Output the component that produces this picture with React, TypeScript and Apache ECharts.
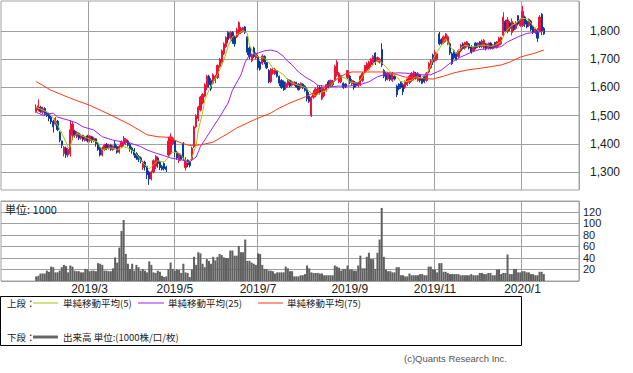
import React, { useEffect, useRef } from "react";
import * as echarts from "echarts";

// trading days per month shown on the chart (first month partial, last month partial)
const monthDays: [string, number][] = [
  ["2019/1", 6], ["2019/2", 19], ["2019/3", 20], ["2019/4", 20], ["2019/5", 19], ["2019/6", 20],
  ["2019/7", 22], ["2019/8", 21], ["2019/9", 19], ["2019/10", 21], ["2019/11", 20], ["2019/12", 21], ["2020/1", 11],
];
const tickMonths = ["2019/3", "2019/5", "2019/7", "2019/9", "2019/11", "2020/1"];
const priceTicks = [1300, 1400, 1500, 1600, 1700, 1800];
const volumeTicks = [20, 40, 60, 80, 100, 120];

const open = [
  1515,1520,1530,1512,1525,1510,1505,1495,1480,1470,
  1480,1440,1410,1365,1385,1360,1365,1430,1445,1425,
  1437,1420,1430,1412,1428,1412,1425,1410,1418,1400,
  1385,1360,1380,1398,1385,1395,1380,1400,1390,1370,
  1390,1400,1405,1410,1398,1385,1378,1365,1355,1350,
  1315,1335,1320,1300,1275,1300,1320,1350,1335,1320,
  1330,1318,1360,1370,1400,1410,1370,1340,1360,1400,
  1315,1342,1335,1345,1390,1460,1490,1520,1545,1570,
  1600,1640,1625,1615,1625,1635,1675,1690,1720,1745,
  1795,1775,1795,1780,1780,1790,1795,1800,1815,1780,
  1740,1695,1740,1705,1710,1690,1685,1710,1688,1660,
  1620,1650,1648,1660,1640,1625,1620,1598,1608,1625,
  1608,1610,1618,1612,1600,1612,1605,1595,1570,1500,
  1565,1570,1580,1600,1560,1570,1590,1620,1605,1622,
  1625,1645,1620,1620,1615,1612,1635,1640,1612,1622,
  1618,1605,1610,1625,1655,1660,1665,1680,1688,1722,
  1695,1690,1735,1660,1650,1630,1645,1625,1640,1605,
  1612,1620,1610,1600,1610,1618,1625,1630,1650,1625,
  1645,1630,1640,1625,1655,1670,1715,1695,1700,1790,
  1770,1760,1770,1755,1755,1720,1730,1720,1710,1730,
  1755,1740,1745,1755,1745,1730,1758,1745,1762,1745,
  1740,1755,1740,1758,1738,1760,1742,1750,1755,1785,
  1835,1800,1830,1795,1825,1810,1855,1820,1820,1850,
  1835,1820,1835,1815,1795,1805,1800,1860,1810,
];
const close = [
  1530,1535,1515,1525,1508,1500,1490,1478,1460,1490,
  1450,1413,1395,1388,1360,1380,1450,1470,1430,1440,
  1420,1430,1415,1425,1410,1428,1412,1420,1400,1380,
  1360,1385,1395,1385,1395,1380,1392,1385,1370,1392,
  1405,1420,1415,1395,1380,1375,1360,1350,1345,1338,
  1335,1318,1290,1275,1300,1340,1355,1330,1315,1310,
  1312,1308,1410,1425,1420,1370,1350,1365,1345,1350,
  1340,1325,1322,1385,1460,1500,1530,1566,1575,1610,
  1640,1610,1595,1645,1640,1678,1700,1730,1755,1778,
  1770,1795,1765,1755,1805,1830,1810,1812,1795,1725,
  1710,1715,1710,1720,1670,1665,1712,1690,1670,1620,
  1665,1660,1665,1640,1615,1600,1592,1615,1628,1605,
  1620,1618,1602,1592,1615,1598,1590,1560,1550,1565,
  1580,1595,1600,1582,1600,1595,1610,1600,1625,1610,
  1675,1690,1650,1642,1600,1602,1660,1618,1625,1600,
  1605,1618,1640,1650,1678,1685,1690,1700,1710,1690,
  1706,1700,1680,1640,1628,1650,1628,1650,1630,1575,
  1595,1600,1585,1620,1630,1640,1650,1655,1635,1650,
  1625,1615,1620,1650,1685,1695,1690,1725,1720,1755,
  1755,1780,1790,1780,1722,1685,1705,1700,1730,1750,
  1738,1760,1762,1740,1725,1742,1740,1758,1745,1765,
  1768,1738,1755,1740,1752,1745,1762,1775,1778,1850,
  1800,1840,1810,1835,1805,1830,1825,1838,1870,1825,
  1815,1842,1805,1795,1808,1775,1850,1800,1790,
];
const low = [
  1510,1515,1510,1505,1500,1495,1480,1470,1440,1465,
  1445,1405,1385,1355,1350,1352,1355,1413,1422,1420,
  1413,1415,1408,1408,1405,1405,1403,1405,1390,1375,
  1355,1355,1375,1378,1380,1375,1375,1380,1365,1365,
  1385,1392,1395,1390,1372,1365,1350,1343,1335,1330,
  1307,1305,1275,1254,1270,1295,1310,1315,1307,1305,
  1305,1300,1353,1360,1395,1353,1343,1332,1340,1343,
  1305,1318,1316,1340,1385,1455,1480,1515,1540,1565,
  1590,1600,1588,1610,1615,1630,1670,1685,1715,1740,
  1757,1770,1755,1745,1775,1785,1790,1795,1790,1715,
  1700,1690,1704,1700,1662,1660,1680,1682,1665,1615,
  1615,1645,1645,1635,1605,1595,1588,1592,1600,1600,
  1603,1605,1598,1590,1596,1594,1585,1550,1545,1495,
  1560,1565,1575,1575,1555,1565,1585,1595,1600,1605,
  1620,1638,1615,1615,1595,1597,1630,1612,1605,1592,
  1600,1600,1605,1620,1650,1655,1660,1673,1680,1680,
  1690,1685,1673,1633,1622,1625,1622,1620,1625,1566,
  1590,1595,1573,1595,1605,1612,1620,1625,1628,1620,
  1618,1612,1615,1620,1650,1665,1680,1690,1695,1750,
  1750,1755,1762,1750,1715,1680,1700,1695,1705,1725,
  1735,1735,1742,1735,1720,1725,1735,1740,1740,1740,
  1735,1732,1735,1735,1735,1740,1738,1745,1750,1780,
  1795,1792,1800,1785,1800,1805,1820,1815,1815,1815,
  1810,1815,1800,1790,1790,1762,1795,1786,1786,
];
const high = [
  1540,1558,1535,1532,1530,1515,1510,1500,1485,1495,
  1485,1445,1412,1392,1390,1385,1485,1477,1450,1445,
  1440,1435,1432,1428,1432,1430,1428,1425,1420,1405,
  1390,1390,1400,1403,1400,1400,1395,1413,1395,1395,
  1412,1428,1420,1415,1403,1390,1385,1370,1360,1355,
  1340,1340,1322,1305,1305,1345,1360,1355,1340,1325,
  1336,1322,1425,1437,1425,1413,1375,1367,1365,1406,
  1353,1345,1340,1390,1465,1505,1535,1570,1580,1615,
  1645,1645,1633,1650,1645,1682,1705,1735,1760,1782,
  1800,1800,1800,1785,1812,1835,1815,1815,1818,1782,
  1745,1720,1745,1725,1715,1695,1718,1714,1690,1665,
  1668,1668,1670,1662,1642,1630,1625,1620,1632,1628,
  1625,1622,1620,1615,1618,1615,1608,1600,1584,1570,
  1590,1600,1608,1605,1608,1598,1612,1626,1628,1626,
  1680,1697,1655,1645,1618,1615,1662,1645,1630,1625,
  1620,1620,1645,1655,1680,1690,1695,1704,1715,1725,
  1710,1705,1757,1665,1655,1655,1648,1655,1645,1610,
  1615,1622,1615,1625,1633,1645,1655,1660,1655,1655,
  1648,1633,1643,1655,1690,1700,1720,1733,1725,1797,
  1775,1785,1793,1785,1760,1725,1735,1725,1735,1755,
  1760,1762,1765,1758,1750,1745,1760,1760,1765,1770,
  1772,1758,1760,1760,1755,1762,1765,1780,1780,1867,
  1840,1850,1835,1845,1830,1835,1857,1842,1890,1855,
  1840,1845,1840,1820,1812,1810,1857,1864,1815,
];
const volume = [
  8,9,13,13,13,18,16,25,24,15,
  15,18,24,28,26,15,27,25,18,17,
  17,15,15,21,20,17,18,18,17,31,
  30,28,18,18,17,17,22,41,32,58,
  87,106,47,30,21,30,18,28,24,18,
  21,18,15,34,28,15,14,18,16,9,
  7,8,20,32,21,18,20,19,14,30,
  15,14,7,20,42,28,50,48,30,24,
  38,35,30,42,36,42,47,45,41,40,
  40,53,53,44,44,61,50,50,72,35,
  35,32,30,28,48,47,28,21,21,18,
  18,17,13,15,15,15,15,25,22,17,
  17,8,8,8,10,10,12,27,22,15,
  14,14,14,13,13,10,10,10,10,10,
  27,25,23,18,21,21,27,20,20,18,
  18,27,44,22,22,42,49,38,38,21,
  49,72,127,42,20,17,17,15,15,24,
  24,10,10,8,8,13,10,10,10,10,
  12,12,10,10,25,25,20,20,15,31,
  31,16,16,14,12,12,12,12,12,10,
  10,10,10,10,12,10,10,10,14,14,
  12,12,14,14,10,10,20,20,12,14,
  14,46,12,12,21,21,15,15,17,17,
  15,15,12,12,10,10,16,16,12,
];
// moving averages: [trading-day index, value]
const ma5: [number, number][] = [
  [0,1530],[3,1520],[6,1509],[8,1491],[10,1467],[12,1437],[14,1406],[15,1385],[16,1390],[17,1420],[19,1437],[21,1430],
  [24,1420],[26,1413],[29,1406],[30,1390],[31,1378],[34,1385],[36,1385],[38,1378],[41,1390],[43,1385],[46,1371],[48,1353],
  [50,1332],[53,1311],[54,1318],[57,1340],[60,1335],[62,1353],[64,1371],[67,1367],[69,1350],[71,1332],[73,1350],[75,1396],
  [76,1449],[78,1509],[79,1555],[81,1590],[83,1620],[85,1645],[88,1697],[90,1745],[92,1780],[95,1792],[97,1803],[99,1792],
  [100,1750],[102,1720],[104,1708],[107,1704],[109,1690],[111,1668],[114,1655],[116,1645],[118,1626],[120,1615],[123,1608],
  [126,1600],[129,1580],[131,1570],[133,1580],[136,1590],[138,1602],[140,1626],[143,1638],[145,1633],[147,1620],[150,1615],
  [152,1626],[154,1650],[157,1673],[159,1690],[161,1697],[164,1673],[166,1655],[169,1638],[171,1620],[173,1620],[176,1626],
  [178,1638],[180,1635],[183,1645],[185,1680],[187,1715],[190,1750],[192,1773],[194,1745],[197,1720],[199,1740],[201,1750],
  [204,1745],[206,1745],[208,1750],[211,1750],[213,1746],[215,1750],[218,1762],[220,1797],[223,1821],[225,1828],[227,1845],
  [230,1845],[232,1828],[234,1810],[236,1797],[238,1800],
];
const ma25: [number, number][] = [
  [0,1512],[3,1502],[8,1509],[10,1495],[15,1484],[19,1474],[22,1460],[27,1449],[31,1425],[36,1413],[41,1406],[44,1403],
  [49,1390],[52,1378],[56,1367],[60,1358],[63,1350],[68,1343],[72,1336],[75,1353],[77,1390],[80,1425],[83,1460],[86,1495],
  [90,1545],[92,1590],[96,1645],[98,1690],[100,1715],[104,1722],[107,1730],[110,1733],[113,1727],[116,1710],[117,1700],
  [120,1680],[123,1655],[126,1638],[130,1620],[132,1608],[137,1602],[142,1605],[146,1605],[151,1608],[156,1620],[160,1638],
  [165,1650],[170,1652],[175,1650],[180,1645],[185,1645],[190,1662],[194,1686],[199,1708],[204,1725],[208,1735],[213,1738],
  [218,1745],[221,1762],[226,1780],[230,1792],[235,1797],[238,1800],
];
const ma75: [number, number][] = [
  [0,1621],[7,1590],[16,1562],[25,1537],[35,1502],[44,1468],[52,1432],[57,1425],[62,1423],[68,1403],[72,1394],[77,1396],
  [83,1406],[90,1437],[94,1456],[99,1474],[104,1491],[110,1509],[114,1527],[119,1545],[126,1566],[132,1588],[137,1608],
  [140,1626],[145,1648],[148,1655],[158,1655],[164,1655],[168,1648],[173,1637],[178,1633],[186,1630],[191,1640],[196,1652],
  [202,1662],[210,1670],[218,1680],[222,1690],[227,1708],[233,1720],[238,1733],
];

const PAD_BEFORE = 16;
const PAD_AFTER = 16;

const RED = "#f0103a";
const BLUE = "#0c3a9e";
const C_MA5 = "#9ccc00";
const C_MA25 = "#a020f0";
const C_MA75 = "#ff3a10";
const GRID = "#a0a0a0";
const FONT = "'Liberation Sans', 'Noto Sans CJK JP', sans-serif";
const JFONT = "'Noto Sans CJK JP', 'Liberation Sans', sans-serif";

export default function App() {
  const ref = useRef<HTMLDivElement>(null);
  useEffect(() => {
    document.body.style.margin = "0";
    if (!ref.current) return;
    const chart = echarts.init(ref.current, null, { renderer: "svg" });

    const cats: string[] = [];
    for (let k = 0; k < PAD_BEFORE; k++) cats.push("pre" + k);
    monthDays.forEach(([m, n]) => {
      for (let d = 1; d <= n; d++) cats.push(m + "-" + d);
    });
    for (let k = 0; k < PAD_AFTER; k++) cats.push("post" + k);
    const N = cats.length;
    const isTick = (v: string) => {
      const p = String(v).split("-");
      return p.length === 2 && p[1] === "1" && tickMonths.indexOf(p[0]) >= 0;
    };

    const candle = cats.map((_, k) => {
      const i = k - PAD_BEFORE;
      if (i < 0 || i >= open.length) return "-";
      return [open[i], close[i], low[i], high[i]];
    });
    const vol = cats.map((_, k) => {
      const i = k - PAD_BEFORE;
      return i < 0 || i >= volume.length ? "-" : volume[i];
    });
    const maData = (pts: [number, number][]) => {
      const arr: (number | null)[] = new Array(N).fill(null);
      pts.forEach(([i, v]) => (arr[i + PAD_BEFORE] = v));
      return arr;
    };

    const lineSeries = (name: string, pts: [number, number][], color: string) => ({
      name,
      type: "line",
      xAxisIndex: 0,
      yAxisIndex: 0,
      data: maData(pts),
      connectNulls: true,
      showSymbol: false,
      symbol: "none",
      lineStyle: { color, width: 1 },
      itemStyle: { color },
      z: 3,
    });

    const txt = (text: string, x: number, y: number, size: number, extra: any = {}) => ({
      type: "text",
      x,
      y,
      style: {
        text,
        fill: "#222",
        font: `${size}px ${JFONT}`,
        textVerticalAlign: "middle",
        verticalAlign: "middle",
        ...extra,
      },
      z: 10,
    });
    const seg = (x1: number, x2: number, y: number, color: string, w: number) => ({
      type: "line",
      shape: { x1, y1: y, x2, y2: y },
      style: { stroke: color, lineWidth: w },
      z: 10,
    });

    chart.setOption({
      animation: false,
      textStyle: { fontFamily: FONT },
      grid: [
        { left: 1, top: 1, width: 578, height: 189, show: true, borderColor: GRID, borderWidth: 1, backgroundColor: "transparent" },
        { left: 1, top: 201, width: 578, height: 80, show: true, borderColor: GRID, borderWidth: 1, backgroundColor: "transparent" },
      ],
      xAxis: [
        {
          type: "category",
          gridIndex: 0,
          data: cats,
          boundaryGap: true,
          axisLine: { show: false },
          axisTick: { show: false },
          axisLabel: { show: false },
          splitLine: { show: true, interval: (_i: number, v: string) => isTick(v), lineStyle: { color: GRID, width: 1 } },
        },
        {
          type: "category",
          gridIndex: 1,
          data: cats,
          boundaryGap: true,
          axisLine: { show: false },
          axisTick: { show: false },
          axisLabel: {
            interval: (_i: number, v: string) => isTick(v),
            formatter: (v: string) => String(v).split("-")[0],
            fontSize: 12,
            color: "#222",
            margin: 2,
            fontFamily: FONT,
          },
          splitLine: { show: true, interval: (_i: number, v: string) => isTick(v), lineStyle: { color: GRID, width: 1 } },
        },
      ],
      yAxis: [
        {
          type: "value",
          gridIndex: 0,
          position: "right",
          min: 1236,
          max: 1907,
          axisLine: { show: false },
          axisTick: { show: false, customValues: priceTicks },
          axisLabel: {
            customValues: priceTicks,
            formatter: (v: number) => v.toLocaleString("en-US"),
            fontSize: 12,
            color: "#222",
            margin: 11,
            fontFamily: FONT,
          },
          splitLine: { show: true, lineStyle: { color: GRID, width: 1 } },
        },
        {
          type: "value",
          gridIndex: 1,
          position: "right",
          min: 0,
          max: 139,
          interval: 20,
          axisLine: { show: false },
          axisTick: { show: false },
          axisLabel: {
            showMinLabel: false,
            showMaxLabel: false,
            formatter: (v: number) => (volumeTicks.indexOf(v) >= 0 ? String(v) : ""),
            fontSize: 11,
            lineHeight: 10,
            color: "#222",
            margin: 4,
            fontFamily: FONT,
          },
          splitLine: { show: true, lineStyle: { color: GRID, width: 1 } },
        },
      ],
      series: [
        {
          name: "price",
          type: "candlestick",
          xAxisIndex: 0,
          yAxisIndex: 0,
          data: candle,
          barWidth: 1.7,
          itemStyle: { color: RED, color0: BLUE, borderColor: RED, borderColor0: BLUE, borderWidth: 1 },
          z: 2,
        },
        lineSeries("単純移動平均(5)", ma5, C_MA5),
        lineSeries("単純移動平均(25)", ma25, C_MA25),
        lineSeries("単純移動平均(75)", ma75, C_MA75),
        {
          name: "出来高",
          type: "bar",
          xAxisIndex: 1,
          yAxisIndex: 1,
          data: vol,
          barCategoryGap: "5%",
          itemStyle: { color: "#606060" },
        },
      ],
      graphic: [
        txt("単位: 1000", 5, 209, 11),
        {
          type: "rect",
          shape: { x: 0.5, y: 296.5, width: 521, height: 49 },
          style: { fill: "none", stroke: "#000", lineWidth: 1 },
          z: 9,
        },
        txt("上段：", 7, 303, 9.5),
        seg(33, 58, 303, C_MA5, 1),
        txt("単純移動平均(5)", 63, 303, 9.5),
        seg(138, 164, 303, C_MA25, 1),
        txt("単純移動平均(25)", 168, 303, 9.5),
        seg(258, 283, 303, C_MA75, 1),
        txt("単純移動平均(75)", 287, 303, 9.5),
        txt("下段：", 7, 337, 9.5),
        seg(33, 58, 337, "#666666", 3),
        txt("出来高 単位:(1000株/口/枚)", 63, 337, 9.5),
        txt("(c)Quants Research Inc.", 507, 358, 9.5, { textAlign: "right", align: "right", fill: "#555", font: `9.5px ${FONT}` }),
      ],
    });
    return () => chart.dispose();
  }, []);
  return <div ref={ref} style={{ width: 633, height: 373 }} />;
}
